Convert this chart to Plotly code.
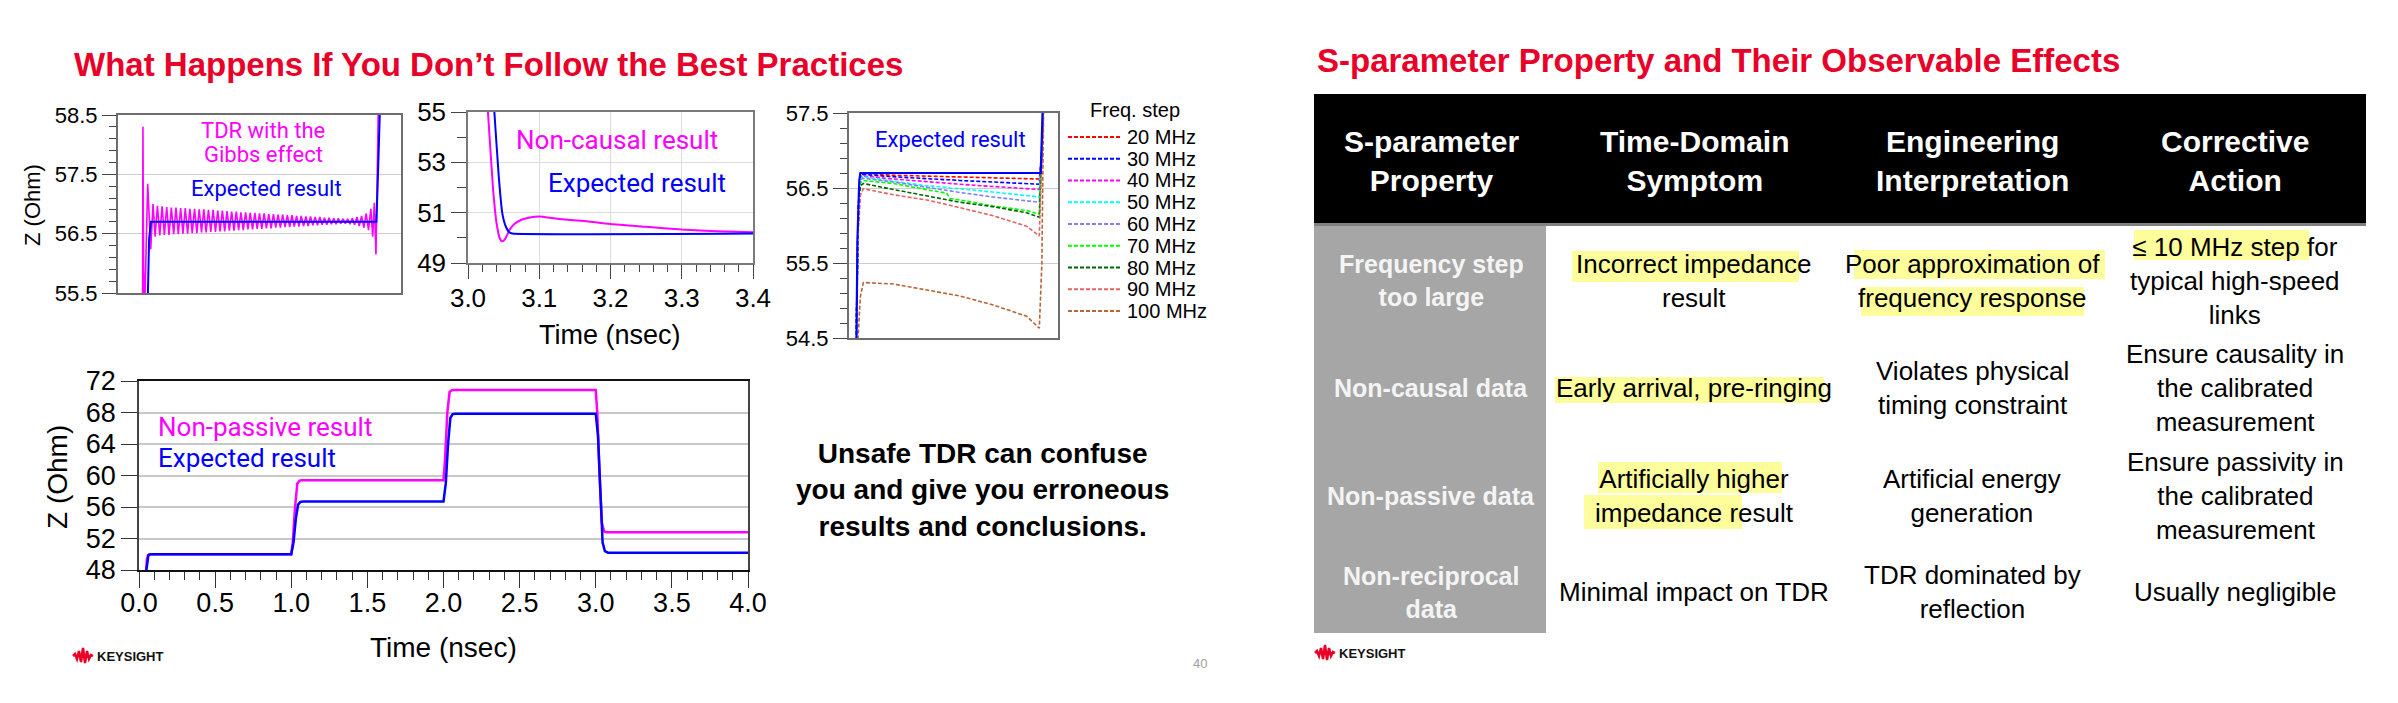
import plotly.graph_objects as go

W, H = 2398, 703
def px(x): return x / W
def py(y): return 1 - y / H

MAGENTA = "#FF00FF"
BLUE = "#0000FF"
RED = "#E90029"
ARIAL = "Liberation Sans, Arial, sans-serif"
ROBOTO = "Roboto, Liberation Sans, sans-serif"

# ---------------- Chart 1: Gibbs effect (zoom on 56.7 Ohm section) ----------------
gibbs_expected_t = [0.90, 1.020, 1.029, 1.034, 1.042, 2.014, 2.020, 2.026, 2.040]
gibbs_expected_z = [50.0, 50.0, 55.5, 56.4, 56.7, 56.7, 57.4, 58.6, 60.0]

gibbs_start_t = [0.90, 1.002, 1.006, 1.0076, 1.010, 1.015, 1.021, 1.028, 1.041, 1.051]
gibbs_start_z = [50.0, 50.0, 55.3, 58.3, 56.0, 55.2, 56.2, 57.34, 56.24, 57.0]
gibbs_osc_t = [1.06, 1.07, 1.08, 1.09, 1.10, 1.11, 1.12, 1.13, 1.14, 1.15,
               1.16, 1.17, 1.18, 1.19, 1.20, 1.21, 1.22, 1.23, 1.24, 1.25,
               1.26, 1.27, 1.28, 1.29, 1.30, 1.31, 1.32, 1.33, 1.34, 1.35,
               1.36, 1.37, 1.38, 1.39, 1.40, 1.41, 1.42, 1.43, 1.44, 1.45,
               1.46, 1.47, 1.48, 1.49, 1.50, 1.51, 1.52, 1.53, 1.54, 1.55,
               1.56, 1.57, 1.58, 1.59, 1.60, 1.61, 1.62, 1.63, 1.64, 1.65,
               1.66, 1.67, 1.68, 1.69, 1.70, 1.71, 1.72, 1.73, 1.74, 1.75,
               1.76, 1.77, 1.78, 1.79, 1.80, 1.81, 1.82, 1.83, 1.84, 1.85,
               1.86, 1.87, 1.88, 1.89, 1.90, 1.91, 1.92, 1.93, 1.94, 1.95,
               1.96, 1.97, 1.98, 1.99]
gibbs_troughs = [56.45, 56.47, 56.48, 56.48, 56.49, 56.49, 56.50, 56.50, 56.51, 56.51,
                 56.52, 56.52, 56.53, 56.53, 56.54, 56.54, 56.55, 56.55, 56.56, 56.56,
                 56.57, 56.57, 56.58, 56.58, 56.59, 56.59, 56.60, 56.60, 56.61, 56.61,
                 56.62, 56.62, 56.63, 56.63, 56.64, 56.64, 56.65, 56.65, 56.66, 56.66,
                 56.67, 56.67, 56.66, 56.65, 56.63, 56.60, 56.56]
gibbs_peaks = [56.97, 56.96, 56.95, 56.94, 56.94, 56.93, 56.93, 56.92, 56.92, 56.91,
               56.91, 56.90, 56.90, 56.89, 56.89, 56.88, 56.87, 56.87, 56.86, 56.86,
               56.85, 56.85, 56.84, 56.84, 56.83, 56.83, 56.82, 56.82, 56.81, 56.81,
               56.80, 56.80, 56.79, 56.79, 56.78, 56.78, 56.77, 56.77, 56.76, 56.76,
               56.75, 56.75, 56.76, 56.78, 56.80, 56.84, 56.92]
gibbs_end_t = [1.998, 2.005, 2.012, 2.022, 2.040]
gibbs_end_z = [56.45, 57.02, 56.15, 58.8, 63.0]

# ---------------- Chart 2: non-causal ----------------
causal_expected_t = [3.000, 3.030, 3.037, 3.043, 3.048, 3.053, 3.058, 3.062, 3.400]
causal_expected_z = [60.0, 58.0, 55.0, 52.5, 51.0, 50.45, 50.22, 50.17, 50.17]
noncausal_t = [3.000, 3.020, 3.028, 3.035, 3.040, 3.045, 3.048, 3.052, 3.058, 3.065,
               3.075, 3.085, 3.100, 3.120, 3.140, 3.160, 3.200, 3.250, 3.300, 3.350, 3.400]
noncausal_z = [60.0, 58.0, 55.0, 52.0, 50.6, 49.95, 49.86, 49.95, 50.3, 50.55,
               50.72, 50.80, 50.85, 50.78, 50.72, 50.68, 50.55, 50.44, 50.33, 50.26, 50.22]

# ---------------- Chart 3: frequency step ----------------
freq_expected_t = [0.99, 1.030, 1.036, 1.046, 1.052, 2.036, 2.042, 2.048]
freq_expected_z = [54.0, 54.3, 55.8, 56.6, 56.7, 56.7, 57.2, 57.7]
freq_t = [1.028, 1.040, 1.052, 1.068, 1.232, 1.414, 1.523, 1.541, 1.595, 1.777, 1.959, 2.028, 2.042, 2.052]
freq_names = ["20 MHz", "30 MHz", "40 MHz", "50 MHz", "60 MHz", "70 MHz", "80 MHz", "90 MHz", "100 MHz"]
freq_colors = ["#FF0000", "#0000FF", "#FF00FF", "#00FFFF", "#8080FF", "#00FF00", "#006400", "#E06666", "#B5653A"]
freq_z = [
    [54.3, 56.20, 56.68, 56.69, 56.67, 56.66, 56.655, 56.655, 56.65, 56.64, 56.63, 56.62, 57.0, 57.7],
    [54.3, 56.20, 56.67, 56.68, 56.65, 56.62, 56.61, 56.61, 56.60, 56.58, 56.56, 56.55, 57.0, 57.7],
    [54.3, 56.15, 56.65, 56.66, 56.62, 56.58, 56.56, 56.56, 56.55, 56.52, 56.49, 56.48, 57.0, 57.7],
    [54.3, 56.10, 56.63, 56.65, 56.59, 56.53, 56.51, 56.50, 56.49, 56.45, 56.40, 56.38, 57.0, 57.7],
    [54.3, 56.10, 56.61, 56.63, 56.58, 56.51, 56.47, 56.46, 56.44, 56.38, 56.33, 56.31, 57.0, 57.7],
    [54.3, 56.00, 56.56, 56.60, 56.56, 56.48, 56.43, 56.36, 56.34, 56.26, 56.20, 56.15, 57.0, 57.7],
    [54.3, 56.00, 56.53, 56.56, 56.48, 56.39, 56.34, 56.33, 56.31, 56.25, 56.17, 56.11, 57.0, 57.7],
    [54.3, 55.90, 56.40, 56.49, 56.41, 56.34, 56.28, 56.27, 56.23, 56.13, 55.99, 55.86, 56.9, 57.7],
    [54.0, 54.60, 55.05, 55.24, 55.22, 55.14, 55.09, 55.08, 55.06, 54.94, 54.79, 54.63, 55.5, 57.7],
]

# ---------------- Chart 4: non-passive ----------------
passive_expected_t = [0.045, 0.055, 0.062, 0.075, 1.000, 1.015, 1.030, 1.045, 1.060, 1.080,
                      2.000, 2.015, 2.030, 2.045, 2.060, 2.080, 3.000, 3.015, 3.030, 3.045, 3.060, 3.080, 4.000]
passive_expected_z = [47.5, 49.3, 49.9, 50.0, 50.0, 51.5, 54.5, 56.3, 56.65, 56.7,
                      56.7, 59.0, 64.0, 67.3, 67.8, 67.85, 67.85, 65.0, 57.0, 51.5, 50.4, 50.2, 50.2]
nonpassive_t = [0.045, 0.052, 0.060, 0.070, 1.000, 1.010, 1.025, 1.040, 1.055, 1.070,
                2.000, 2.010, 2.025, 2.040, 2.055, 2.070, 3.000, 3.010, 3.025, 3.040, 3.055, 3.070, 4.000]
nonpassive_z = [47.5, 49.4, 49.9, 50.0, 50.0, 51.5, 56.0, 59.0, 59.35, 59.4,
                59.4, 62.0, 68.0, 70.6, 70.82, 70.85, 70.85, 68.0, 60.0, 54.0, 52.9, 52.8, 52.8]

# ---------------- Table ----------------
table_header = ["S-parameter<br>Property", "Time-Domain<br>Symptom", "Engineering<br>Interpretation", "Corrective<br>Action"]
table_property = ["Frequency step<br>too large", "Non-causal data", "Non-passive data", "Non-reciprocal<br>data"]
table_symptom = ["Incorrect impedance<br>result", "Early arrival, pre-ringing", "Artificially higher<br>impedance result", "Minimal impact on TDR"]
table_interpretation = ["Poor approximation of<br>frequency response", "Violates physical<br>timing constraint", "Artificial energy<br>generation", "TDR dominated by<br>reflection"]
table_action = ["≤ 10 MHz step for<br>typical high-speed<br>links", "Ensure causality in<br>the calibrated<br>measurement",
                "Ensure passivity in<br>the calibrated<br>measurement", "Usually negligible"]

fig = go.Figure()

# Chart 1 traces
g_t = list(gibbs_start_t)
g_z = list(gibbs_start_z)
for i, t in enumerate(gibbs_osc_t):
    g_t.append(t)
    g_z.append(gibbs_troughs[i // 2] if i % 2 == 0 else gibbs_peaks[i // 2])
g_t += gibbs_end_t
g_z += gibbs_end_z
fig.add_trace(go.Scatter(x=g_t, y=g_z, mode="lines", line=dict(color=MAGENTA, width=1.6), xaxis="x", yaxis="y"))
fig.add_trace(go.Scatter(x=gibbs_expected_t, y=gibbs_expected_z, mode="lines", line=dict(color=BLUE, width=2), xaxis="x", yaxis="y"))

# Chart 2 traces
fig.add_trace(go.Scatter(x=noncausal_t, y=noncausal_z, mode="lines", line=dict(color=MAGENTA, width=2, shape="spline", smoothing=0.6), xaxis="x2", yaxis="y2"))
fig.add_trace(go.Scatter(x=causal_expected_t, y=causal_expected_z, mode="lines", line=dict(color=BLUE, width=2, shape="spline", smoothing=0.4), xaxis="x2", yaxis="y2"))

# Chart 3 traces
for name, col, zs in zip(freq_names, freq_colors, freq_z):
    fig.add_trace(go.Scatter(x=freq_t, y=zs, mode="lines", line=dict(color=col, width=1.6, dash="4px,2px"), xaxis="x3", yaxis="y3", name=name))
fig.add_trace(go.Scatter(x=freq_expected_t, y=freq_expected_z, mode="lines", line=dict(color=BLUE, width=2.2), xaxis="x3", yaxis="y3"))

# Legend samples for chart 3 (own small axis)
for i, (name, col) in enumerate(zip(freq_names, freq_colors)):
    fig.add_trace(go.Scatter(x=[0, 1], y=[i, i], mode="lines", line=dict(color=col, width=2, dash="4px,2px"), xaxis="x5", yaxis="y5", hoverinfo="skip"))

# Chart 4 traces
fig.add_trace(go.Scatter(x=nonpassive_t, y=nonpassive_z, mode="lines", line=dict(color=MAGENTA, width=2.5), xaxis="x4", yaxis="y4"))
fig.add_trace(go.Scatter(x=passive_expected_t, y=passive_expected_z, mode="lines", line=dict(color=BLUE, width=2.5), xaxis="x4", yaxis="y4"))

axis_common = dict(zeroline=False, showline=True, mirror=True, layer="above traces", automargin=False)

fig.update_layout(
    width=W, height=H, margin=dict(l=0, r=0, t=0, b=0, pad=0, autoexpand=False),
    paper_bgcolor="white", plot_bgcolor="white", showlegend=False,
    font=dict(family=ARIAL, color="black"),
    xaxis=dict(domain=[px(118), px(401)], range=[0.9, 2.12], anchor="y", showticklabels=False, ticks="",
               showgrid=False, linecolor="#6e6e6e", linewidth=2, **axis_common),
    yaxis=dict(domain=[py(293), py(115)], range=[55.5, 58.5], anchor="x", tick0=55.5, dtick=1, tickformat=".1f",
               ticks="outside", ticklen=14, tickcolor="#444", tickfont=dict(size=22, family=ARIAL),
               showgrid=True, gridcolor="#cccccc", linecolor="#6e6e6e", linewidth=2,
               minor=dict(tick0=55.5, dtick=0.2, ticks="outside", ticklen=7, tickcolor="#444", showgrid=False), **axis_common),
    xaxis2=dict(domain=[px(468), px(753)], range=[3.0, 3.4], anchor="y2", tick0=3.0, dtick=0.1, tickformat=".1f",
                ticks="outside", ticklen=14, tickcolor="#444", tickfont=dict(size=26, family=ARIAL), ticklabelstandoff=-3,
                showgrid=True, gridcolor="#dddddd", linecolor="#7a7a7a", linewidth=1.5,
                minor=dict(dtick=0.02, ticks="outside", ticklen=7, tickcolor="#444", showgrid=False), **axis_common),
    yaxis2=dict(domain=[py(263), py(112)], range=[49, 55], anchor="x2", tick0=49, dtick=2,
                ticks="outside", ticklen=15, tickcolor="#444", tickfont=dict(size=26, family=ARIAL),
                showgrid=True, gridcolor="#dddddd", linecolor="#7a7a7a", linewidth=1.5,
                minor=dict(dtick=1, ticks="outside", ticklen=9, tickcolor="#444", showgrid=False), **axis_common),
    xaxis3=dict(domain=[px(849), px(1058)], range=[0.99, 2.13], anchor="y3", showticklabels=False, ticks="",
                showgrid=False, linecolor="#6e6e6e", linewidth=2, **axis_common),
    yaxis3=dict(domain=[py(338), py(113)], range=[54.5, 57.5], anchor="x3", tick0=54.5, dtick=1, tickformat=".1f",
                ticks="outside", ticklen=14, tickcolor="#444", tickfont=dict(size=22, family=ARIAL),
                showgrid=True, gridcolor="#cccccc", linecolor="#6e6e6e", linewidth=2,
                minor=dict(tick0=54.5, dtick=0.2, ticks="outside", ticklen=7, tickcolor="#444", showgrid=False), **axis_common),
    xaxis4=dict(domain=[px(139), px(748)], range=[0, 4], anchor="y4", tick0=0, dtick=0.5, tickformat=".1f",
                ticks="outside", ticklen=16, tickcolor="#333", tickfont=dict(size=27, family=ARIAL), ticklabelstandoff=-8,
                showgrid=False, linecolor="#111", linewidth=1.5,
                minor=dict(dtick=0.1, ticks="outside", ticklen=8, tickcolor="#333", showgrid=False), **axis_common),
    yaxis4=dict(domain=[py(570), py(381)], range=[48, 72], anchor="x4", tick0=48, dtick=4,
                ticks="outside", ticklen=16, tickcolor="#333", tickfont=dict(size=27, family=ARIAL),
                showgrid=True, gridcolor="#c8c8c8", gridwidth=1.5, linecolor="#444", linewidth=1.5, **axis_common),
    xaxis5=dict(domain=[px(1068), px(1122)], range=[0, 1], anchor="y5", visible=False, automargin=False),
    yaxis5=dict(domain=[py(321.9), py(126.1)], range=[8.5, -0.5], anchor="x5", visible=False, automargin=False),
)

ann = []
def A(text, x, y, size, color="black", xanchor="center", yanchor="middle", family=ARIAL, **kw):
    ann.append(dict(text=text, x=px(x), y=py(y), xref="paper", yref="paper", showarrow=False,
                    xanchor=xanchor, yanchor=yanchor, font=dict(size=size, color=color, family=family), **kw))

# Titles
A("<b>What Happens If You Don’t Follow the Best Practices</b>", 72, 64, 33, RED, xanchor="left")
A("<b>S-parameter Property and Their Observable Effects</b>", 1315, 60, 33, RED, xanchor="left")

# Chart annotations
A("TDR with the", 263, 131, 22, MAGENTA, family=ROBOTO)
A("Gibbs effect", 263, 154, 22, MAGENTA, family=ROBOTO)
A("Expected result", 266, 189, 22, BLUE, family=ROBOTO)
A("Z (Ohm)", 32, 205, 22, textangle=-90)

A("Non-causal result", 617, 140, 26, MAGENTA, family=ROBOTO)
A("Expected result", 637, 183, 26, BLUE, family=ROBOTO)
A("Time (nsec)", 610, 335, 27)

A("Expected result", 950, 140, 22, BLUE, family=ROBOTO)
A("Freq. step", 1135, 110, 20)
for i, name in enumerate(freq_names):
    ann.append(dict(text=name, x=1, y=i, xref="x5", yref="y5", showarrow=False, xanchor="left", yanchor="middle",
                    xshift=3, font=dict(size=20, color="black", family=ARIAL)))

A("Non-passive result", 156, 427, 26, MAGENTA, xanchor="left", family=ROBOTO)
A("Expected result", 156, 458, 26, BLUE, xanchor="left", family=ROBOTO)
A("Z (Ohm)", 57, 477, 28, textangle=-90)
A("Time (nsec)", 443, 647, 28)

A("<b>Unsafe TDR can confuse<br>you and give you erroneous<br>results and conclusions.</b>", 982, 489.5, 28)
A("40", 1200, 663, 13, "#a0a0a0")

# Logos
A("<b>KEYSIGHT</b>", 95, 656, 13, "#111", xanchor="left")
A("<b>KEYSIGHT</b>", 1337, 653, 13, "#111", xanchor="left")

# Table
col_centers = [1431, 1694, 1972, 2235]
row_centers = [280.5, 388, 496, 592]
for c, h in zip(col_centers, table_header):
    A("<b>" + h + "</b>", c, 161, 30, "white")
for r, txt in zip(row_centers, table_property):
    A("<b>" + txt + "</b>", col_centers[0], r, 25, "#f4f4f4")
for col, texts in zip(col_centers[1:], [table_symptom, table_interpretation, table_action]):
    for r, txt in zip(row_centers, texts):
        A(txt, col, r, 26, "black")

fig.update_layout(annotations=ann)

shapes = []
# table header and first column
shapes.append(dict(type="rect", xref="paper", yref="paper", x0=px(1314), x1=px(2366), y0=py(223), y1=py(94),
                   fillcolor="black", line=dict(width=0), layer="below"))
shapes.append(dict(type="rect", xref="paper", yref="paper", x0=px(1314), x1=px(2366), y0=py(226), y1=py(223),
                   fillcolor="#808080", line=dict(width=0), layer="below"))
shapes.append(dict(type="rect", xref="paper", yref="paper", x0=px(1314), x1=px(1546), y0=py(633), y1=py(226),
                   fillcolor="#A6A6A6", line=dict(width=0), layer="below"))
# highlights (x0, x1, y_top, y_bottom)
highlights = [(1572, 1799, 251, 282), (1854, 2105, 250, 279), (1861, 2084, 287, 316), (2134, 2309, 230, 260),
              (1555, 1824, 377, 403), (1598, 1782, 462, 493), (1584, 1742, 495, 529)]
for x0, x1, y0, y1 in highlights:
    shapes.append(dict(type="rect", xref="paper", yref="paper", x0=px(x0), x1=px(x1), y0=py(y1), y1=py(y0),
                       fillcolor="#FDFD9C", line=dict(width=0), layer="below"))
# Keysight wave logos
wave = [(0, 0), (2, -2), (4, 3), (6, -5), (8, 6), (10, -8), (12, 7), (14, -5), (16, 3), (18, -1), (20, 0)]
for lx, ly in [(73, 656), (1315, 653)]:
    path = "M " + " L ".join(f"{px(lx + dx):.6f},{py(ly + dy):.6f}" for dx, dy in wave)
    shapes.append(dict(type="path", xref="paper", yref="paper", path=path, line=dict(color=RED, width=2.5)))
fig.update_layout(shapes=shapes)

fig.write_html("out.html")
